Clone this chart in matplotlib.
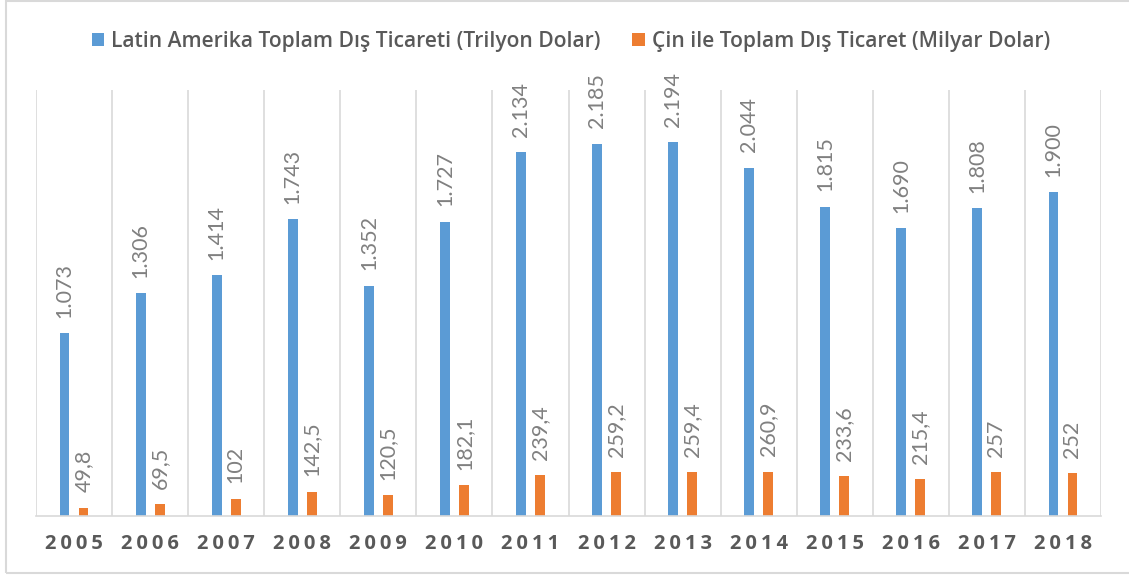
import numpy as np
import matplotlib
matplotlib.use('Agg')
import matplotlib.pyplot as plt
from matplotlib.patches import Rectangle

plt.rcParams['font.family'] = ['Lato', 'DejaVu Sans']

# veriler (milyar dolar)
years = ['2005', '2006', '2007', '2008', '2009', '2010', '2011',
         '2012', '2013', '2014', '2015', '2016', '2017', '2018']
latin_total = [1073, 1306, 1414, 1743, 1352, 1727, 2134,
               2185, 2194, 2044, 1815, 1690, 1808, 1900]
china_trade = [49.8, 69.5, 102, 142.5, 120.5, 182.1, 239.4,
               259.2, 259.4, 260.9, 233.6, 215.4, 257, 252]

lbl_blue = 'Latin Amerika Toplam Dış Ticareti (Trilyon Dolar)'
lbl_orange = 'Çin ile Toplam Dış Ticaret (Milyar Dolar)'

blue = '#5B9BD5'
orange = '#ED7D31'
grid_c = '#D9D9D9'

fig = plt.figure(figsize=(11.29, 5.75), dpi=100)
ax = fig.add_axes([36/1129, 1 - 516/575, 1065/1129, 426/575])

x = np.arange(len(years))
w = 0.13
b1 = ax.bar(x - 0.125, latin_total, w, color=blue, label=lbl_blue)
b2 = ax.bar(x + 0.125, china_trade, w, color=orange, label=lbl_orange)

# etiketler
for xi, v in zip(x, latin_total):
    ax.annotate(f'{v:,}'.replace(',', '.'), (xi - 0.125, v), xytext=(0, 11),
                textcoords='offset points', rotation=90, ha='center', va='bottom',
                fontsize=15.5, color='#808080')
for xi, v in zip(x, china_trade):
    ax.annotate(f'{v:g}'.replace('.', ','), (xi + 0.125, v), xytext=(0, 11),
                textcoords='offset points', rotation=90, ha='center', va='bottom',
                fontsize=15.5, color='#808080')

ax.set_xlim(-0.5, len(years) - 0.5)
ax.set_ylim(0, 2500)
ax.set_yticks([])
ax.set_xticks(x)
ax.set_xticklabels(['\u2009'.join(y) for y in years], fontsize=14.5, fontweight='bold',
                   color='#595959', family=['Open Sans', 'DejaVu Sans'])
ax.tick_params(axis='x', length=0, pad=13)

for xv in np.arange(-0.5, len(years), 1.0):
    ax.axvline(xv, color=grid_c, lw=1.2, zorder=0)

for s in ['top', 'right', 'left']:
    ax.spines[s].set_visible(False)
ax.spines['bottom'].set_color(grid_c)
ax.spines['bottom'].set_linewidth(1.2)

fig.legend(handles=[b1, b2], loc='center', bbox_to_anchor=(571/1129, 1 - 41/575),
           ncol=2, frameon=False,
           prop={'family': 'Open Sans', 'size': 15.1, 'weight': 'semibold'},
           labelcolor='#595959', handlelength=0.58, handleheight=0.58,
           handletextpad=0.35, columnspacing=1.5)

# dış çerçeve
fig.patches.append(Rectangle((6/1129, 2/575), 1.2, 572/575, transform=fig.transFigure,
                             fill=False, edgecolor=grid_c, lw=1.5))

fig.savefig('out.png', dpi=100)
